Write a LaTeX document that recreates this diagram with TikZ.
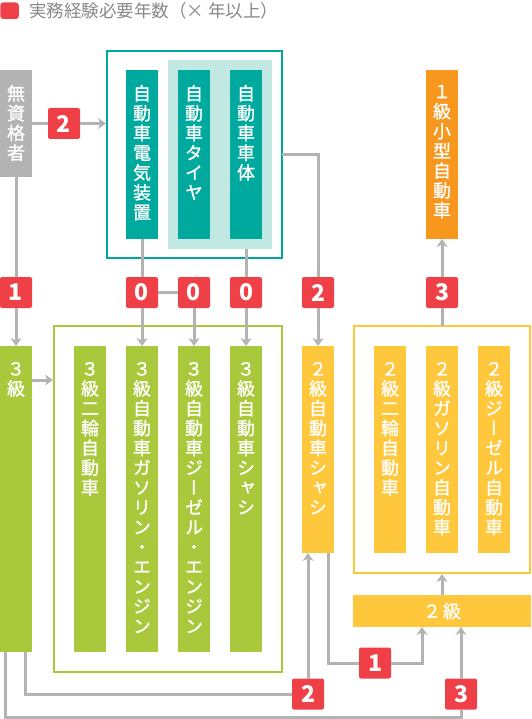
\documentclass[tikz,border=0pt]{standalone}
\usepackage{fontspec}
\newfontfamily\jp{Noto Sans CJK JP}
\newfontfamily\jpm[FakeBold=1.2]{Noto Sans CJK JP}
\newfontfamily\jpv[RawFeature=+vert,FakeBold=1.2]{Noto Sans CJK JP}
\usetikzlibrary{arrows.meta,calc}
\definecolor{cline}{HTML}{B3B3B3}
\definecolor{cgray}{HTML}{B3B3B3}
\definecolor{cteal}{HTML}{00A99D}
\definecolor{clteal}{HTML}{C2E8E4}
\definecolor{cgreen}{HTML}{AAC83C}
\definecolor{cyellow}{HTML}{FFC73B}
\definecolor{corange}{HTML}{F7971E}
\definecolor{cred}{HTML}{F04047}
\definecolor{clegend}{HTML}{888888}

\newcommand\vstack[1]{\vbox{\baselineskip=19.8pt\lineskiplimit=-100pt\lineskip=0pt\vsloop#1\relax}}
\def\vsloop#1{\ifx\relax#1\else\hbox to 20pt{\hss#1\hss}\expandafter\vsloop\fi}

\begin{document}
\begin{tikzpicture}[x=1pt,y=-1pt,
  blk/.style={inner sep=0pt, outer sep=0pt, anchor=north west, draw=none},
  frm/.style={inner sep=0pt, outer sep=0pt, anchor=north west, fill=none, line width=2pt},
  vt/.style={inner sep=0pt, outer sep=0pt, anchor=north, text=white, font=\jpv\fontsize{18}{19.8}\selectfont},
  conn/.style={draw=cline, line width=3pt},
  arr/.style={conn, -{Stealth[length=8pt,width=11pt,inset=2.5pt]}},
  badge/.style={fill=cred, rounded corners=2pt, minimum width=32pt, minimum height=31pt, inner sep=0pt, outer sep=0pt, text=white, font=\jp\bfseries\fontsize{23}{23}\selectfont},
]
\useasboundingbox (0,0) rectangle (531,719);

% legend
\node[blk, fill=cred, rounded corners=3pt, minimum width=18.5pt, minimum height=16.5pt] (legbox) at (0.3,2.5) {};
\node[anchor=west, inner sep=0pt, text=clegend, font=\jp\fontsize{17.5}{17.5}\selectfont] (legtext) at (29,11) {実務経験必要年数（× 年以上）};

% boxes
\node[blk, fill=cgray, minimum width=32pt, minimum height=107pt] (mushi) at (0,70) {};
\node[frm, draw=cteal, minimum width=175pt, minimum height=207pt] (tealout) at (107,51) {};
\node[blk, fill=clteal, minimum width=104pt, minimum height=189pt] (ltteal) at (168,60) {};
\node[blk, fill=cteal, minimum width=32pt, minimum height=169pt] (denki) at (126,70) {};
\node[blk, fill=cteal, minimum width=32pt, minimum height=169pt] (tire) at (178,70) {};
\node[blk, fill=cteal, minimum width=32pt, minimum height=169pt] (shatai) at (230,70) {};
\node[blk, fill=corange, minimum width=32pt, minimum height=169pt] (ichi) at (426,70) {};

\node[blk, fill=cgreen, minimum width=32pt, minimum height=306pt] (kyu3) at (0,346) {};
\node[frm, draw=cgreen, minimum width=228pt, minimum height=346pt] (greenout) at (54,326) {};
\node[blk, fill=cgreen, minimum width=32pt, minimum height=306pt] (g1) at (74,346) {};
\node[blk, fill=cgreen, minimum width=32pt, minimum height=306pt] (g2) at (126,346) {};
\node[blk, fill=cgreen, minimum width=32pt, minimum height=306pt] (g3) at (178,346) {};
\node[blk, fill=cgreen, minimum width=32pt, minimum height=306pt] (g4) at (230,346) {};

\node[blk, fill=cyellow, minimum width=32pt, minimum height=207pt] (shasi2) at (302,346) {};
\node[frm, draw=cyellow, minimum width=176pt, minimum height=247pt] (yelout) at (354,326) {};
\node[blk, fill=cyellow, minimum width=32pt, minimum height=207pt] (y1) at (374,346) {};
\node[blk, fill=cyellow, minimum width=32pt, minimum height=207pt] (y2) at (426,346) {};
\node[blk, fill=cyellow, minimum width=32pt, minimum height=207pt] (y3) at (478,346) {};
\node[blk, fill=cyellow, minimum width=178pt, minimum height=32pt] (kyu2) at (353,595) {};

% badges
\node[badge] (b2a) at (64,123.5) {2};
\node[badge] (b1a) at (16,292.5) {1};
\node[badge] (b0a) at (142,292.5) {0};
\node[badge] (b0b) at (194,292.5) {0};
\node[badge] (b0c) at (246,292.5) {0};
\node[badge] (b2b) at (318,292.5) {2};
\node[badge] (b3a) at (442,292.5) {3};
\node[badge] (b1b) at (375,663) {1};
\node[badge] (b2c) at (308,694) {2};
\node[badge] (b3b) at (461,694) {3};
\coordinate (botline) at (0,717);

% connectors
\draw[conn] (mushi.east |- b2a) -- (b2a.west);
\draw[arr, shorten >=1pt] (b2a.east) -- (tealout.west |- b2a);
\draw[conn] (mushi.south) -- (b1a.north);
\draw[arr] (b1a.south) -- (kyu3.north);
\draw[conn] (denki.south) -- (b0a.north);
\draw[conn] (b0a.east) -- (b0b.west);
\draw[conn] (ltteal.south -| b0c) -- (b0c.north);
\draw[arr] (b0a.south) -- (g2.north);
\draw[arr] (b0b.south) -- (g3.north);
\draw[arr] (b0c.south) -- (g4.north);
\draw[conn] (tealout.east |- shatai.center) -| (b2b.north);
\draw[arr] (b2b.south) -- (shasi2.north);
\draw[arr, shorten >=1pt] ($(kyu3.north east)+(0,34)$) -- ($(greenout.north west)+(0,54)$);
\draw[conn] (yelout.north -| b3a) -- (b3a.south);
\draw[arr] (b3a.north) -- (ichi.south);
\draw[arr, shorten >=1pt] (kyu2.north) -- (yelout.south);
\draw[conn] ($(shasi2.south)+(10,0)$) |- (b1b.west);
\draw[arr] (b1b.east) -| ($(kyu2.south west)+(69,0)$);
\draw[conn] ($(kyu3.south west)+(25,0)$) |- (b2c.west);
\draw[arr] (b2c.north) -- (shasi2.south -| b2c);
\draw[conn] ($(kyu3.south west)+(5,0)$) |- (b3b |- botline) -- (b3b.south);
\draw[arr] (b3b.north) -- (kyu2.south -| b3b);

% texts
\node[vt] (mushi-t) at (16,85) {\vstack{無資格者}};
\node[vt] (denki-t) at (142,85) {\vstack{自動車電気装置}};
\node[vt] (tire-t) at (194,85) {\vstack{自動車タイヤ}};
\node[vt] (shatai-t) at (246,85) {\vstack{自動車車体}};
\node[vt] (ichi-t) at (442,85) {\vstack{１級小型自動車}};
\node[vt] (kyu3-t) at (16,362) {\vstack{３級}};
\node[vt] (g1-t) at (90,362) {\vstack{３級二輪自動車}};
\node[vt] (g2-t) at (142,362) {\vstack{３級自動車ガソリン・エンジン}};
\node[vt] (g3-t) at (194,362) {\vstack{３級自動車ジーゼル・エンジン}};
\node[vt] (g4-t) at (246,362) {\vstack{３級自動車シャシ}};
\node[vt] (shasi2-t) at (318,362) {\vstack{２級自動車シャシ}};
\node[vt] (y1-t) at (390,362) {\vstack{２級二輪自動車}};
\node[vt] (y2-t) at (442,362) {\vstack{２級ガソリン自動車}};
\node[vt] (y3-t) at (494,362) {\vstack{２級ジーゼル自動車}};
\node[inner sep=0pt, text=white, font=\jpm\fontsize{18}{18}\selectfont] (kyu2-t) at (kyu2.center) {２\hspace{2pt}級};
\end{tikzpicture}
\end{document}
